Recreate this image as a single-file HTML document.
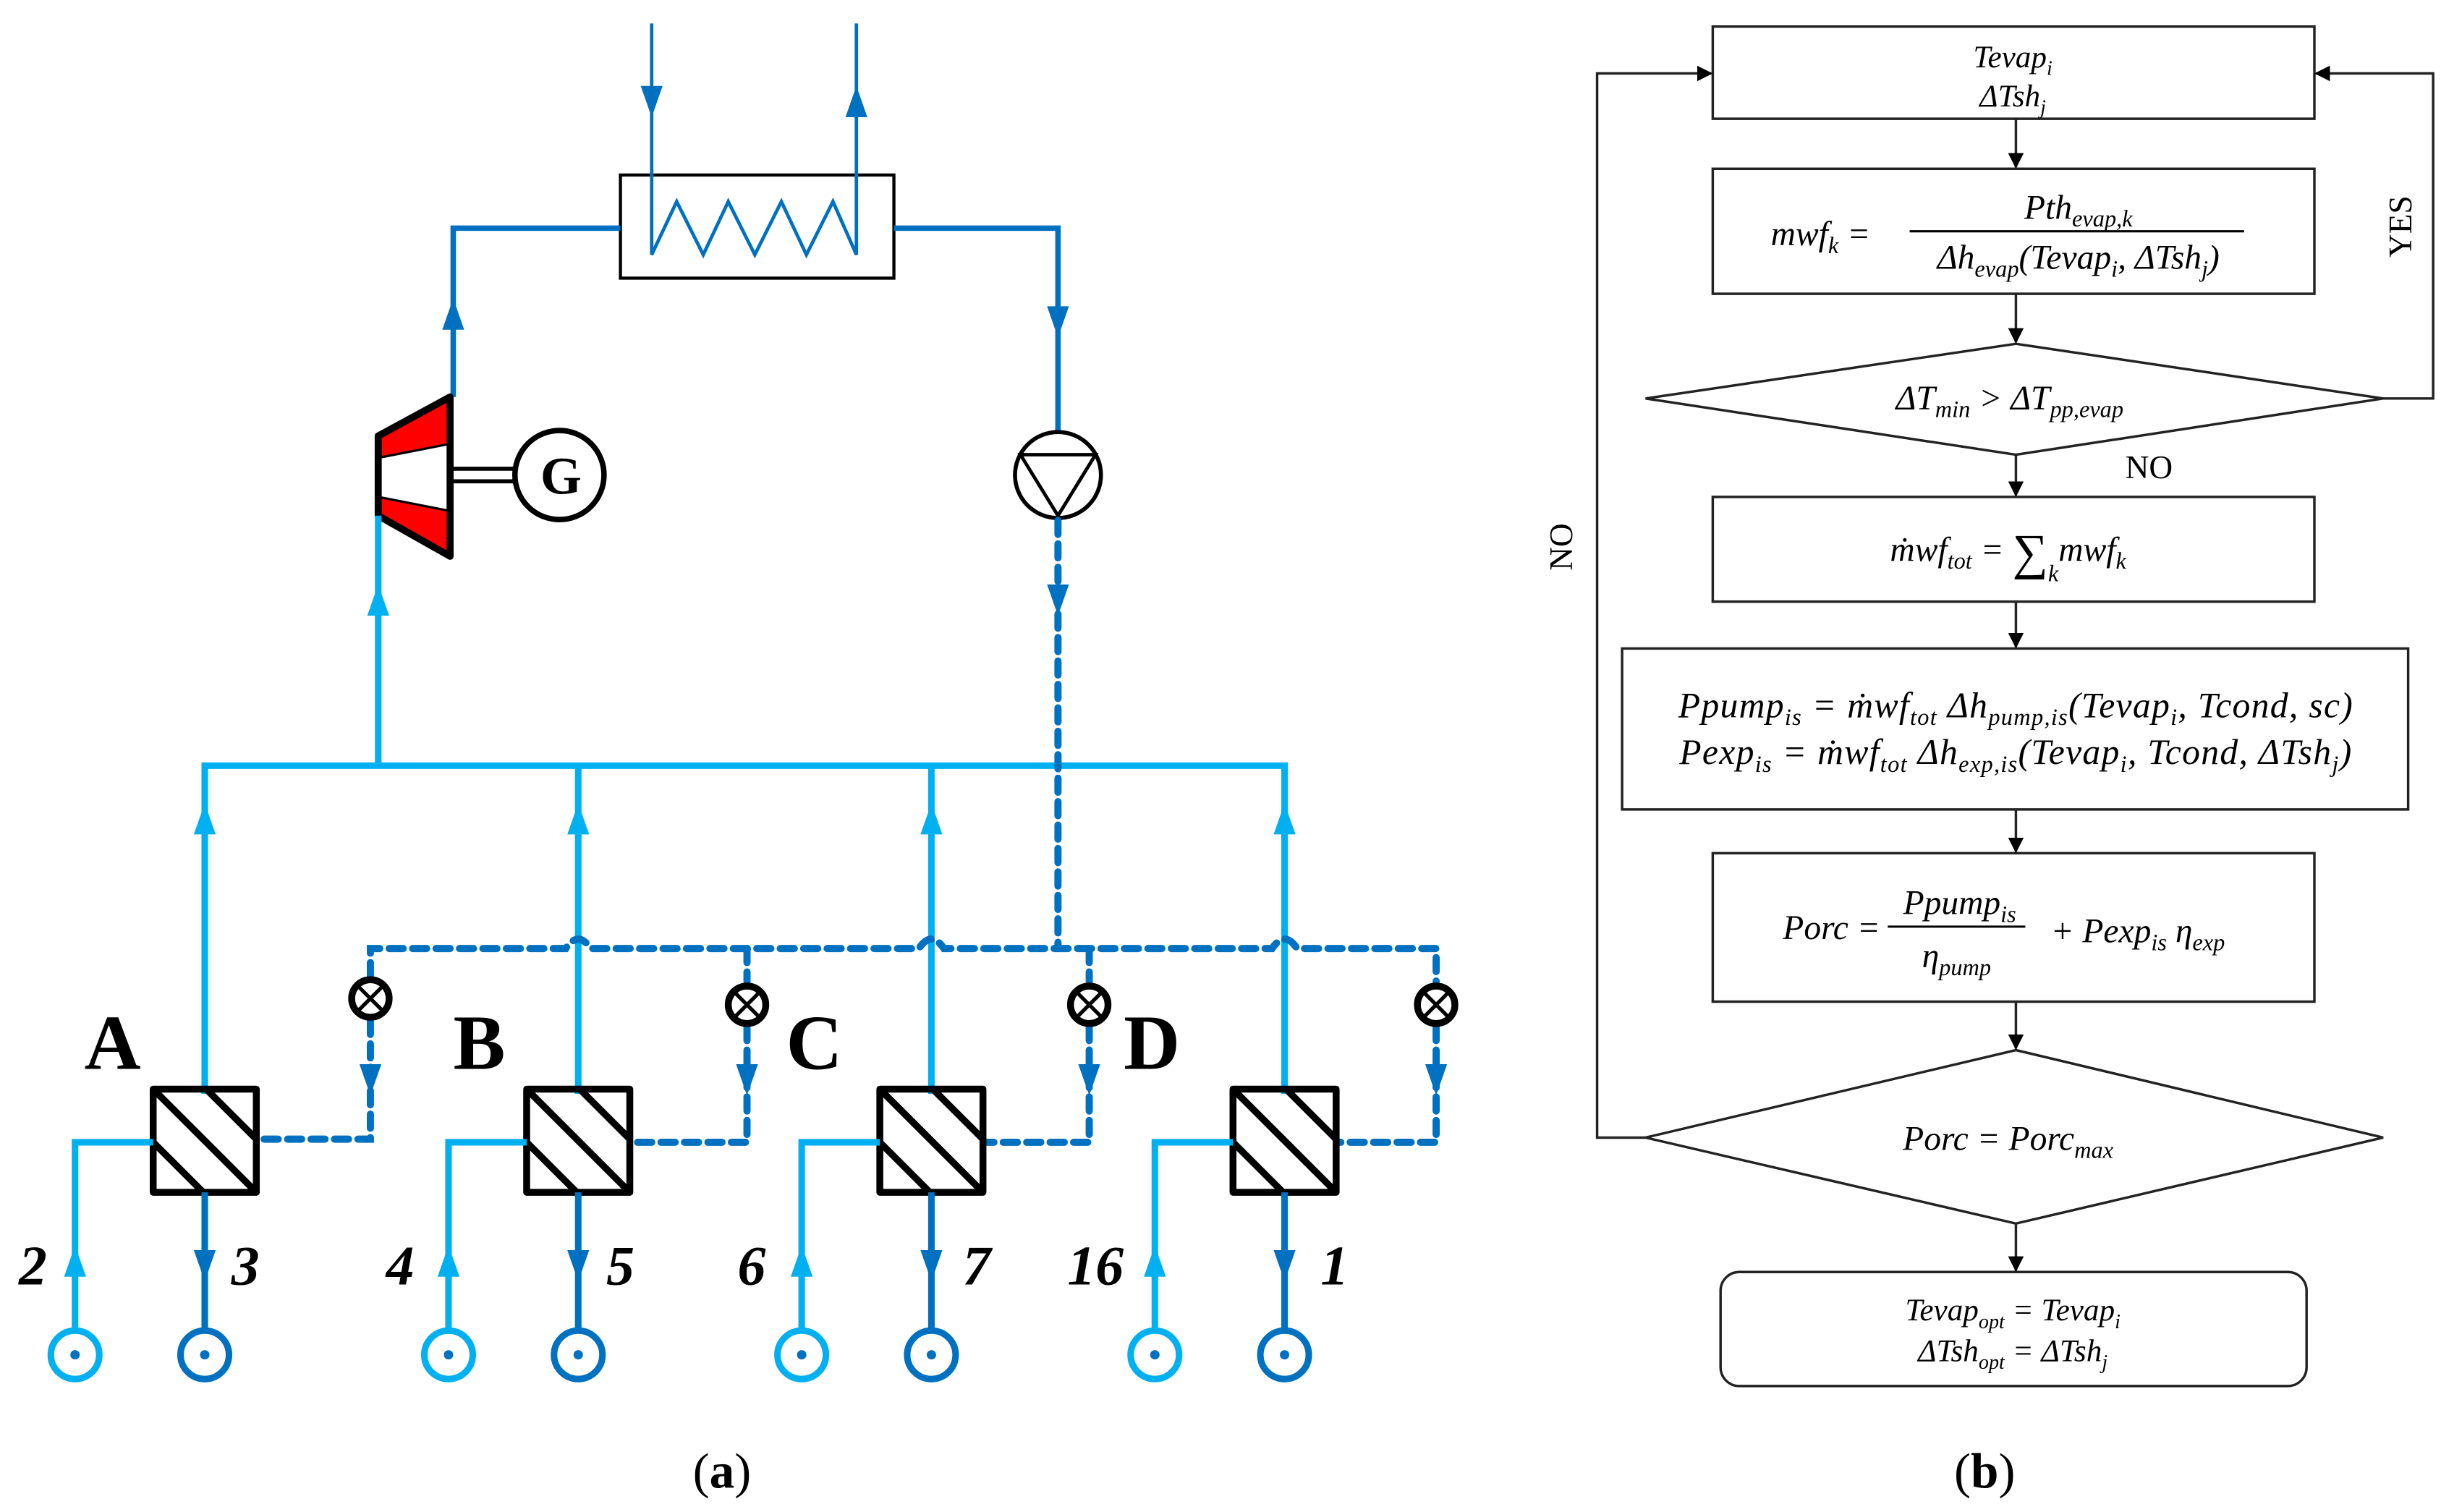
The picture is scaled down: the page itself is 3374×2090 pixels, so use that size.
<!DOCTYPE html>
<html><head><meta charset="utf-8"><style>html,body{margin:0;padding:0;background:#fff}svg{display:block}</style></head>
<body>
<svg width="3374" height="2090" viewBox="0 0 1562 967.6" xmlns="http://www.w3.org/2000/svg">
<defs>
<marker id="ah" markerWidth="10" markerHeight="10" refX="9" refY="5" orient="auto" markerUnits="userSpaceOnUse"><path d="M0,0 L10,5 L0,10 Z" fill="#000"/></marker>
</defs>
<g fill="none" stroke-linecap="butt">
<rect x="397" y="112" width="175" height="66" stroke="#000" stroke-width="2"/>
<path d="M417,15 V163 L433,129 L450,163 L466,129 L483,163 L500,129 L516,163 L533,129 L548,163 V15" stroke="#0070C0" stroke-width="2.2"/>
<path d="M397,146 H290 V254" stroke="#0070C0" stroke-width="3.5"/>
<path d="M572,146 H677 V276" stroke="#0070C0" stroke-width="3.5"/>
<path d="M242,293 L288,284 L288,254 L242,279 Z" fill="#f00" stroke="none"/>
<path d="M242,318 L288,327 L288,356 L242,330 Z" fill="#f00" stroke="none"/>
<path d="M242,293 L288,284 M242,318 L288,327" stroke="#000" stroke-width="1.5"/>
<path d="M242,279 L288,254 L288,356 L242,330 Z" stroke="#000" stroke-width="4.5" stroke-linejoin="round"/>
<path d="M290,300 H330 M290,308 H330" stroke="#000" stroke-width="2.6"/>
<circle cx="358" cy="304" r="28.5" stroke="#000" stroke-width="3.5"/>
<circle cx="677" cy="304" r="27.5" stroke="#000" stroke-width="2.6"/>
<path d="M653,291 H701 L677,330 Z" stroke="#000" stroke-width="2.2"/>
<path d="M242,330 V490 M131,700 V490 H822 V700 M370,490 V700 M596,490 V700" stroke="#00B0F0" stroke-width="4.2"/>
<g stroke="#0070C0" stroke-width="4.6" stroke-dasharray="9 6" stroke-linecap="round">
<path d="M677,333 V607"/>
<path d="M237,625 V607 H362 Q370,595 378,607 H588 Q596,595 604,607 H814 Q822,595 830,607 H919 V628"/>
<path d="M478,607 V628 M697,607 V628"/>
<path d="M237,653 V729 H165 M478,657 V731 H404 M697,657 V731 H630 M919,657 V731 H857"/>
</g>
<g stroke="#000" stroke-width="4.4" stroke-linejoin="round">
<rect x="98" y="697" width="66" height="66"/>
<path d="M132,697 L164,729 M98,697 L164,763 M98,731 L130,763"/>
<rect x="337" y="697" width="66" height="66"/>
<path d="M371,697 L403,729 M337,697 L403,763 M337,731 L369,763"/>
<rect x="563" y="697" width="66" height="66"/>
<path d="M597,697 L629,729 M563,697 L629,763 M563,731 L595,763"/>
<rect x="789" y="697" width="66" height="66"/>
<path d="M823,697 L855,729 M789,697 L855,763 M789,731 L821,763"/>
</g>
<g stroke="#00B0F0" stroke-width="4.2">
<path d="M98,731 H48 V851 M337,731 H287 V851 M563,731 H513 V851 M789,731 H739 V851"/>
<circle cx="48" cy="867" r="15.5"/><circle cx="287" cy="867" r="15.5"/><circle cx="513" cy="867" r="15.5"/><circle cx="739" cy="867" r="15.5"/>
</g>
<g stroke="#0070C0" stroke-width="4.2">
<path d="M131,763 V851 M370,763 V851 M596,763 V851 M822,763 V851"/>
<circle cx="131" cy="867" r="15.5"/><circle cx="370" cy="867" r="15.5"/><circle cx="596" cy="867" r="15.5"/><circle cx="822" cy="867" r="15.5"/>
</g>
<g stroke="#000" stroke-width="4.4">
<circle cx="237" cy="639" r="12"/><circle cx="478" cy="643" r="12"/><circle cx="697" cy="643" r="12"/><circle cx="919" cy="643" r="12"/>
</g>
<g stroke="#000" stroke-width="2.4">
<path d="M229,631 l16,16 m0,-16 l-16,16"/>
<path d="M470,635 l16,16 m0,-16 l-16,16"/>
<path d="M689,635 l16,16 m0,-16 l-16,16"/>
<path d="M911,635 l16,16 m0,-16 l-16,16"/>
</g>
</g>
<g fill="#0070C0"><circle cx="48" cy="867" r="3"/><circle cx="287" cy="867" r="3"/><circle cx="513" cy="867" r="3"/><circle cx="739" cy="867" r="3"/><circle cx="131" cy="867" r="3"/><circle cx="370" cy="867" r="3"/><circle cx="596" cy="867" r="3"/><circle cx="822" cy="867" r="3"/></g>
<g fill="#0070C0">
<path d="M410,55 L424,55 L417,75 Z"/><path d="M541,75 L555,75 L548,55 Z"/>
<path d="M283,211 L297,211 L290,191 Z"/><path d="M670,196 L684,196 L677,216 Z"/>
<path d="M670,374 L684,374 L677,394 Z"/>
<path d="M230,681 L244,681 L237,701 Z"/><path d="M471,681 L485,681 L478,701 Z"/><path d="M690,681 L704,681 L697,701 Z"/><path d="M912,681 L926,681 L919,701 Z"/>
<path d="M124,800 L138,800 L131,820 Z"/><path d="M363,800 L377,800 L370,820 Z"/><path d="M589,800 L603,800 L596,820 Z"/><path d="M815,800 L829,800 L822,820 Z"/>
</g>
<g fill="#00B0F0">
<path d="M235,394 L249,394 L242,374 Z"/>
<path d="M124,534 L138,534 L131,514 Z"/><path d="M363,534 L377,534 L370,514 Z"/><path d="M589,534 L603,534 L596,514 Z"/><path d="M815,534 L829,534 L822,514 Z"/>
<path d="M41,817 L55,817 L48,797 Z"/><path d="M280,817 L294,817 L287,797 Z"/><path d="M506,817 L520,817 L513,797 Z"/><path d="M732,817 L746,817 L739,797 Z"/>
</g>
<g font-family="'Liberation Serif',serif" font-weight="bold" fill="#000">
<text x="359" y="316" font-size="34" text-anchor="middle">G</text>
<text x="54" y="684" font-size="50">A</text>
<text x="290" y="684" font-size="50">B</text>
<text x="503" y="684" font-size="50">C</text>
<text x="719" y="684" font-size="50">D</text>
<g font-style="italic" font-size="36">
<text x="12" y="822">2</text><text x="148" y="822">3</text>
<text x="247" y="822">4</text><text x="388" y="822">5</text>
<text x="472" y="822">6</text><text x="616" y="822">7</text>
<text x="683" y="822">16</text><text x="845" y="822">1</text>
</g>
</g>
<g font-family="'Liberation Serif',serif" font-size="32" fill="#000">
<text x="462" y="952" text-anchor="middle">(<tspan font-weight="bold">a</tspan>)</text>
<text x="1270" y="952" text-anchor="middle">(<tspan font-weight="bold">b</tspan>)</text>
</g>
<g fill="none" stroke="#222" stroke-width="1.6">
<rect x="1096" y="17" width="385" height="59"/>
<rect x="1096" y="108" width="385" height="80"/>
<path d="M1053,255 L1290,220 L1525,255 L1290,291 Z"/>
<rect x="1096" y="318" width="385" height="67"/>
<rect x="1038" y="415" width="503" height="103"/>
<rect x="1096" y="546" width="385" height="95"/>
<path d="M1053,728 L1290,672 L1525,728 L1290,783 Z"/>
<rect x="1101" y="814" width="375" height="73" rx="12"/>
<g marker-end="url(#ah)">
<path d="M1290,76 V107"/><path d="M1290,188 V219"/><path d="M1290,291 V317"/><path d="M1290,385 V414"/><path d="M1290,518 V545"/><path d="M1290,641 V671"/><path d="M1290,783 V813"/>
<path d="M1053,728 H1022 V47 H1095"/>
<path d="M1525,255 H1557 V47 H1482"/>
</g>
</g>
<g font-family="'Liberation Serif',serif" font-size="21" fill="#000">
<text x="1360" y="306">NO</text>
<text transform="translate(1543,145) rotate(-90)" text-anchor="middle">YES</text>
<text transform="translate(1006,350) rotate(-90)" text-anchor="middle">NO</text>
</g>
<g font-family="'Liberation Serif',serif" font-style="italic" font-size="22" fill="#000" text-anchor="middle">
<text x="1288" y="43" font-size="20">Tevap<tspan font-size="13" dy="5">i</tspan></text>
<text x="1288" y="68" font-size="20">ΔTsh<tspan font-size="13" dy="5">j</tspan></text>
<text x="1165" y="157">mwf<tspan font-size="15" dy="5">k</tspan><tspan dy="-5"> =</tspan></text>
<text x="1330" y="140">Pth<tspan font-size="15" dy="5">evap,k</tspan></text>
<line x1="1222" y1="148" x2="1436" y2="148" stroke="#000" stroke-width="1.4"/>
<text x="1330" y="172">Δh<tspan font-size="15" dy="5">evap</tspan><tspan dy="-5">(Tevap</tspan><tspan font-size="15" dy="5">i</tspan><tspan dy="-5">, ΔTsh</tspan><tspan font-size="15" dy="5">j</tspan><tspan dy="-5">)</tspan></text>
<text x="1286" y="262">ΔT<tspan font-size="15" dy="5">min</tspan><tspan dy="-5"> &gt; ΔT</tspan><tspan font-size="15" dy="5">pp,evap</tspan></text>
<text x="1285" y="359">ṁwf<tspan font-size="15" dy="5">tot</tspan><tspan dy="-5"> = </tspan><tspan font-style="normal" font-size="32" dy="5">∑</tspan><tspan font-size="15" dy="8">k</tspan><tspan dy="-13">mwf</tspan><tspan font-size="15" dy="5">k</tspan></text>
<text x="1290" y="459" font-size="23" letter-spacing="0.6">Ppump<tspan font-size="15" dy="5">is</tspan><tspan dy="-5"> = ṁwf</tspan><tspan font-size="15" dy="5">tot</tspan><tspan dy="-5"> Δh</tspan><tspan font-size="15" dy="5">pump,is</tspan><tspan dy="-5">(Tevap</tspan><tspan font-size="15" dy="5">i</tspan><tspan dy="-5">, Tcond, sc)</tspan></text>
<text x="1290" y="489" font-size="23" letter-spacing="0.6">Pexp<tspan font-size="15" dy="5">is</tspan><tspan dy="-5"> = ṁwf</tspan><tspan font-size="15" dy="5">tot</tspan><tspan dy="-5"> Δh</tspan><tspan font-size="15" dy="5">exp,is</tspan><tspan dy="-5">(Tevap</tspan><tspan font-size="15" dy="5">i</tspan><tspan dy="-5">, Tcond, ΔTsh</tspan><tspan font-size="15" dy="5">j</tspan><tspan dy="-5">)</tspan></text>
<text x="1172" y="601">Porc =</text>
<text x="1254" y="585">Ppump<tspan font-size="15" dy="5">is</tspan></text>
<line x1="1208" y1="593" x2="1296" y2="593" stroke="#000" stroke-width="1.4"/>
<text x="1252" y="619">η<tspan font-size="15" dy="5">pump</tspan></text>
<text x="1368" y="603">+ Pexp<tspan font-size="15" dy="5">is</tspan><tspan dy="-5"> η</tspan><tspan font-size="15" dy="5">exp</tspan></text>
<text x="1285" y="736">Porc = Porc<tspan font-size="15" dy="5">max</tspan></text>
<text x="1288" y="845" font-size="20">Tevap<tspan font-size="13" dy="5">opt</tspan><tspan dy="-5"> = Tevap</tspan><tspan font-size="13" dy="5">i</tspan></text>
<text x="1288" y="871" font-size="20">ΔTsh<tspan font-size="13" dy="5">opt</tspan><tspan dy="-5"> = ΔTsh</tspan><tspan font-size="13" dy="5">j</tspan></text>
</g>
</svg>
</body></html>
